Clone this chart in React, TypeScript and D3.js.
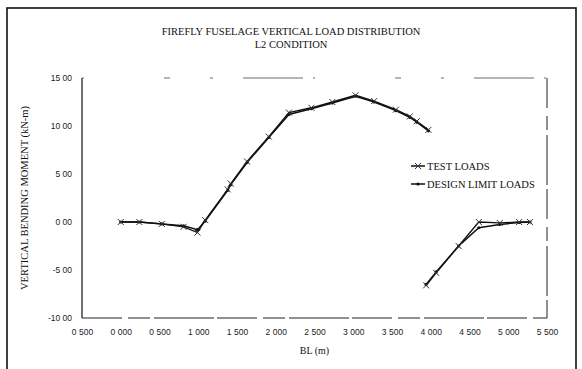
import { useRef, useEffect, useMemo } from "react";
import * as d3 from "d3";

// BL station (m) for each reading; null breaks the line between the two runs
const blStations = [
  0.0, 0.24, 0.53, 0.81, 0.99, 1.09, 1.38, 1.42, 1.63, 1.91, 2.17, 2.46, 2.73, 3.03, 3.27, 3.55, 3.73, 3.82,
  3.97, null, 3.94, 4.07, 4.36, 4.62, 4.89, 5.14, 5.28,
];
const testLoads = [
  0.0, 0.0, -0.2, -0.5, -1.1, 0.2, 3.4, 4.0, 6.3, 8.9, 11.4, 11.9, 12.5, 13.2, 12.6, 11.7, 11.0, 10.5, 9.6,
  null, -6.6, -5.3, -2.5, 0.0, -0.1, 0.0, 0.0,
];
const designLimitLoads = [
  0.0, 0.0, -0.2, -0.4, -0.8, 0.1, 3.3, 3.9, 6.2, 8.8, 11.2, 11.8, 12.4, 13.1, 12.5, 11.6, 10.9, 10.4, 9.5,
  null, -6.5, -5.2, -2.5, -0.6, -0.25, -0.05, 0.0,
];

const xTicks = [-0.5, 0, 0.5, 1, 1.5, 2, 2.5, 3, 3.5, 4, 4.5, 5, 5.5];
const xTickLabels = [
  "0 500", "0 000", "0 500", "1 000", "1 500", "2 000", "2 500", "3 000", "3 500", "4 000", "4 500", "5 000", "5 500",
];
const yTicks = [15, 10, 5, 0, -5, -10];
const yTickLabels = ["15 00", "10 00", "5 00", "0 00", "-5 00", "-10 00"];
const seriesNames = ["TEST LOADS", "DESIGN LIMIT LOADS"];

const W = 582;
const H = 369;
const MARGIN = { top: 78, right: 35, bottom: 51, left: 82 };
const SERIF = "'Liberation Serif', 'Times New Roman', serif";
const SANS = "'Liberation Sans', Arial, sans-serif";

export default function App() {
  const axesRef = useRef(null);
  const boundsWidth = W - MARGIN.left - MARGIN.right;
  const boundsHeight = H - MARGIN.top - MARGIN.bottom;

  const xScale = useMemo(() => d3.scaleLinear().domain([-0.5, 5.5]).range([0, boundsWidth]), [boundsWidth]);
  const yScale = useMemo(() => d3.scaleLinear().domain([-10, 15]).range([boundsHeight, 0]), [boundsHeight]);

  const rows = (vals: (number | null)[]) =>
    blStations.map((x, i) => ({ x, y: vals[i] }));

  const line = d3
    .line<{ x: number | null; y: number | null }>()
    .defined((d) => d.x != null && d.y != null)
    .x((d) => xScale(d.x as number))
    .y((d) => yScale(d.y as number));

  const testRows = rows(testLoads);
  const designRows = rows(designLimitLoads);

  useEffect(() => {
    const g = d3.select(axesRef.current);
    g.selectAll("*").remove();

    const yAxis = g
      .append("g")
      .call(
        d3
          .axisLeft(yScale)
          .tickValues(yTicks)
          .tickSize(0)
          .tickPadding(10)
          .tickFormat((_, i) => yTickLabels[i])
      );
    yAxis.select(".domain").remove();
    yAxis.selectAll("text").attr("font-size", 8.5).attr("font-family", SANS).attr("fill", "#222");

    const xAxis = g
      .append("g")
      .attr("transform", `translate(0,${boundsHeight})`)
      .call(
        d3
          .axisBottom(xScale)
          .tickValues(xTicks)
          .tickSize(0)
          .tickPadding(11)
          .tickFormat((_, i) => xTickLabels[i])
      );
    xAxis.select(".domain").remove();
    xAxis.selectAll("text").attr("font-size", 8.5).attr("font-family", SANS).attr("fill", "#222");
  }, [xScale, yScale, boundsHeight]);

  const crossMark = (cx: number, cy: number, k: string) => (
    <path
      key={k}
      d={`M${cx - 3},${cy - 3}L${cx + 3},${cy + 3}M${cx - 3},${cy + 3}L${cx + 3},${cy - 3}`}
      stroke="#333"
      strokeWidth={1}
    />
  );

  return (
    <svg width={W} height={H} style={{ position: "absolute", left: 0, top: 0, background: "#fff" }}>
      <rect x={7} y={8} width={569} height={380} fill="none" stroke="#111" strokeWidth={1.6} />
      <text x={291} y={35} textAnchor="middle" fontFamily={SERIF} fontSize={10.5} fill="#111">
        FIREFLY FUSELAGE VERTICAL LOAD DISTRIBUTION
      </text>
      <text x={291} y={48} textAnchor="middle" fontFamily={SERIF} fontSize={10.5} fill="#111">
        L2 CONDITION
      </text>
      <text
        transform={`translate(28,${MARGIN.top + boundsHeight / 2}) rotate(-90)`}
        textAnchor="middle"
        fontFamily={SERIF}
        fontSize={10.5}
        fill="#111"
      >
        VERTICAL BENDING MOMENT (kN-m)
      </text>
      <text x={MARGIN.left + boundsWidth / 2} y={354} textAnchor="middle" fontFamily={SERIF} fontSize={10} fill="#111">
        BL (m)
      </text>

      <g transform={`translate(${MARGIN.left},${MARGIN.top})`}>
        {/* plot frame */}
        <line x1={0} y1={0} x2={0} y2={boundsHeight} stroke="#111" strokeWidth={1.2} />
        <line x1={0} y1={boundsHeight} x2={boundsWidth} y2={boundsHeight} stroke="#222" strokeWidth={1} strokeDasharray="40 6 22 4 60 3" />
        <line x1={boundsWidth} y1={0} x2={boundsWidth} y2={boundsHeight} stroke="#222" strokeWidth={1} strokeDasharray="30 8 14 5 50 4" />
        <line x1={0} y1={0} x2={boundsWidth} y2={0} stroke="#444" strokeWidth={0.8} strokeDasharray="2 80 6 40 3 30 60 10" />

        <path d={line(designRows) ?? ""} fill="none" stroke="#111" strokeWidth={1.5} />
        <path d={line(testRows) ?? ""} fill="none" stroke="#111" strokeWidth={1.3} />
        {designRows
          .filter((d) => d.x != null && d.y != null)
          .map((d, i) => (
            <circle key={"d" + i} cx={xScale(d.x as number)} cy={yScale(d.y as number)} r={1.6} fill="#111" />
          ))}
        {testRows
          .filter((d) => d.x != null && d.y != null)
          .map((d, i) => crossMark(xScale(d.x as number), yScale(d.y as number), "t" + i))}

        <g ref={axesRef} />
      </g>

      {/* legend */}
      {seriesNames.map((name, i) => {
        const ly = 166 + i * 18;
        return (
          <g key={name}>
            <line x1={411} x2={425} y1={ly} y2={ly} stroke="#111" strokeWidth={1.5} />
            {i === 0 ? crossMark(418, ly, "lg") : <circle cx={418} cy={ly} r={1.6} fill="#111" />}
            <text x={427} y={ly + 3.5} fontFamily={SERIF} fontSize={10.5} fill="#111">
              {name}
            </text>
          </g>
        );
      })}
    </svg>
  );
}
